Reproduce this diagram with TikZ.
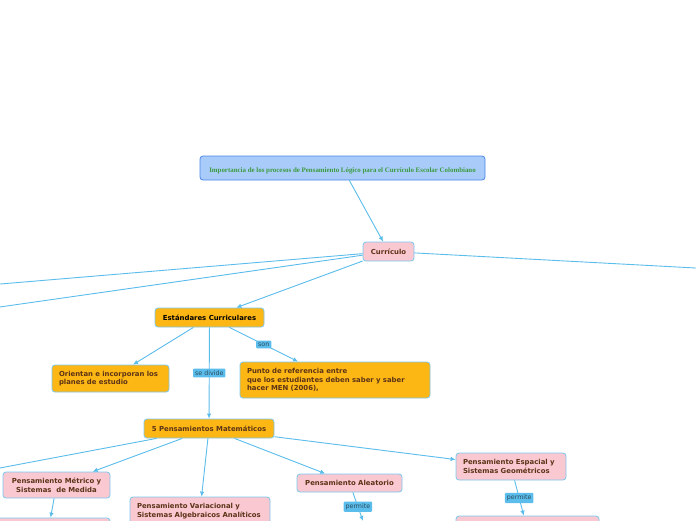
\documentclass[tikz,border=0pt]{standalone}
\usepackage{fontspec}
\newfontfamily\mapfont{DejaVu Sans}
\newfontfamily\titlefont{Liberation Serif}
\usetikzlibrary{arrows.meta}

\definecolor{linkblue}{HTML}{5BBDEB}
\definecolor{rimblue}{HTML}{7CC7EE}
\definecolor{titlefill}{HTML}{A8CBF9}
\definecolor{titlerim}{HTML}{4A86E8}
\definecolor{titlegreen}{HTML}{3C9B3C}
\definecolor{pinkfill}{HTML}{F9C8D1}
\definecolor{orangefill}{HTML}{FDB714}
\definecolor{mapbrown}{HTML}{5C3317}
\definecolor{tagtext}{HTML}{2B4B5E}

\begin{document}
\begin{tikzpicture}[x=1pt, y=-1pt,
    concept/.style={draw=rimblue, line width=0.8pt, rounded corners=3pt, inner xsep=7pt, inner ysep=0pt,
        font=\mapfont\bfseries\fontsize{6.9}{8.6}\selectfont, text=mapbrown},
    pinkbox/.style={concept, fill=pinkfill},
    orangebox/.style={concept, fill=orangefill},
    tag/.style={fill=linkblue, text=tagtext, inner xsep=2pt, inner ysep=2pt, rounded corners=1pt,
        font=\mapfont\fontsize{6.3}{7}\selectfont},
    link/.style={draw=linkblue, line width=0.9pt, -{Latex[length=5pt,width=4.5pt]}}]
\useasboundingbox (0,0) rectangle (696,520);
\clip (0,0) rectangle (696,520);
\fill[white] (0,0) rectangle (696,520);

% main topic
\node[draw=titlerim, fill=titlefill, line width=0.8pt, rounded corners=3pt, minimum width=285pt, minimum height=24pt,
      inner sep=0pt, text height=9pt, text depth=0pt, text=titlegreen, font=\titlefont\bfseries\fontsize{6.9}{8}\selectfont]
      (titulo) at (342.5,168)
      {Importancia de los procesos de Pensamiento Lógico para el Currículo Escolar Colombiano};

\node[pinkbox, minimum width=51pt, minimum height=19pt, inner xsep=0pt] (curriculo) at (388.5,251.5) {Currículo};
\node[orangebox, minimum width=109pt, minimum height=19pt, inner xsep=0pt, text=black] (estandares) at (209.5,317.5) {Estándares Curriculares};
\node[orangebox, text width=103pt, align=left, minimum height=27pt] (orientan) at (110.5,378.5)
      {Orientan e incorporan los\\planes de estudio};
\node[orangebox, text width=176pt, align=left, minimum height=36pt] (punto) at (335,380)
      {Punto de referencia entre\\que los estudiantes deben saber y saber\\hacer MEN (2006),};
\node[orangebox, minimum width=130pt, minimum height=19pt, inner xsep=0pt] (cinco) at (209,428.5) {5 Pensamientos Matemáticos};

\node[pinkbox, minimum width=107pt, minimum height=26pt, inner xsep=0pt, align=center] (metrico) at (56.5,485)
      {Pensamiento Métrico y\\Sistemas~ de Medida};
\node[pinkbox, text width=126pt, align=left, minimum height=28pt] (variacional) at (200,511)
      {Pensamiento Variacional y\\Sistemas Algebraicos Analíticos};
\node[pinkbox, minimum width=105pt, minimum height=18pt, inner xsep=0pt] (aleatorio) at (349.5,483) {Pensamiento Aleatorio};
\node[pinkbox, text width=96pt, align=left, minimum height=27pt] (espacial) at (511,466.5)
      {Pensamiento Espacial y\\Sistemas Geométricos};

% nodes cut by the lower edge
\node[pinkbox, minimum width=124pt, minimum height=28pt] (metricohijo) at (48,532) {};
\node[pinkbox, minimum width=143pt, minimum height=28pt] (espacialhijo) at (527.5,530) {};

% ends outside the picture
\coordinate (izqA) at (-50,288.2);
\coordinate (izqB) at (-50,314.1);
\coordinate (derA) at (746,270.7);
\coordinate (izqC) at (-50,477.4);
\coordinate (aleatoriohijo) at (363,521);

\draw[link] (titulo) -- (curriculo);
\draw[link] (curriculo) -- (izqA);
\draw[link] (curriculo) -- (izqB);
\draw[link] (curriculo) -- (derA);
\draw[link] (curriculo) -- (estandares);
\draw[link] (estandares) -- (orientan);
\draw[link] (estandares) -- node[tag]{son} (punto);
\draw[link] (estandares) -- node[tag]{se divide} (cinco);
\draw[link] (cinco) -- (izqC);
\draw[link] (cinco) -- (metrico);
\draw[link] (cinco) -- (variacional);
\draw[link] (cinco) -- (aleatorio);
\draw[link] (cinco) -- (espacial);
\draw[link] (metrico) -- (metricohijo);
\draw[link] (aleatorio) -- node[tag]{permite} (aleatoriohijo);
\draw[link] (espacial) -- node[tag]{permite} (espacialhijo);
\end{tikzpicture}
\end{document}
